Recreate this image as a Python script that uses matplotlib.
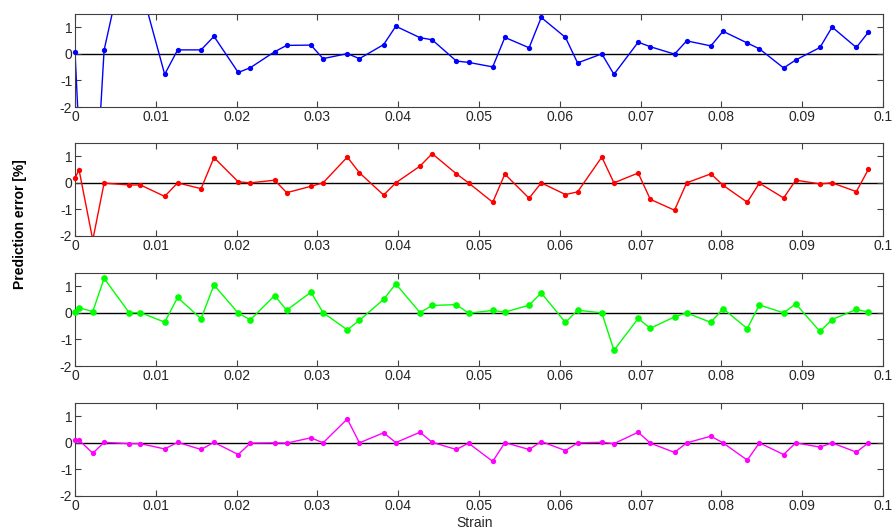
import numpy as np
import matplotlib

matplotlib.use("Agg")
import matplotlib.pyplot as plt

plt.rcParams["font.family"] = ["Liberation Sans", "DejaVu Sans"]
plt.rcParams["axes.unicode_minus"] = False

# strain levels where the prediction was evaluated
strain = [0.0, 0.0005, 0.0022, 0.0036, 0.0067, 0.0081, 0.0111, 0.0127, 0.0156, 0.0172,
          0.0202, 0.0217, 0.0247, 0.0262, 0.0292, 0.0307, 0.0337, 0.0352, 0.0382, 0.0397,
          0.0427, 0.0442, 0.0472, 0.0487, 0.0517, 0.0532, 0.0562, 0.0577, 0.0607, 0.0622,
          0.0652, 0.0667, 0.0697, 0.0712, 0.0742, 0.0757, 0.0787, 0.0802, 0.0832, 0.0847,
          0.0877, 0.0892, 0.0922, 0.0937, 0.0967, 0.0982]

# prediction error [%] for each model
err_blue = [0.06, -3.1, -7.2, 0.14, 4.4, 2.57, -0.77, 0.15, 0.15, 0.66,
            -0.70, -0.52, 0.08, 0.32, 0.33, -0.18, 0.01, -0.18, 0.35, 1.04,
            0.61, 0.53, -0.27, -0.32, -0.49, 0.62, 0.23, 1.37, 0.62, -0.34,
            0.00, -0.77, 0.44, 0.27, -0.01, 0.49, 0.30, 0.85, 0.41, 0.19,
            -0.53, -0.23, 0.24, 1.01, 0.24, 0.82]
err_red = [0.18, 0.49, -2.15, -0.01, -0.08, -0.08, -0.51, 0.00, -0.22, 0.95,
           0.04, 0.00, 0.10, -0.37, -0.13, 0.00, 0.97, 0.38, -0.46, 0.00,
           0.63, 1.10, 0.34, 0.00, -0.73, 0.33, -0.58, 0.00, -0.44, -0.34,
           0.97, 0.00, 0.37, -0.62, -1.03, 0.00, 0.34, -0.09, -0.73, -0.01,
           -0.57, 0.10, -0.04, 0.00, -0.33, 0.51]
err_green = [0.05, 0.19, 0.05, 1.30, 0.01, 0.01, -0.35, 0.58, -0.22, 1.05,
             -0.01, -0.26, 0.65, 0.10, 0.78, 0.01, -0.64, -0.28, 0.51, 1.09,
             0.01, 0.28, 0.31, -0.01, 0.09, 0.03, 0.29, 0.75, -0.36, 0.10,
             0.00, -1.41, -0.21, -0.58, -0.15, 0.00, -0.36, 0.16, -0.59, 0.30,
             0.00, 0.34, -0.70, -0.25, 0.13, 0.03]
err_magenta = [0.12, 0.10, -0.39, 0.02, -0.03, -0.03, -0.23, 0.02, -0.25, 0.02,
               -0.44, -0.01, 0.00, -0.01, 0.19, 0.00, 0.90, 0.00, 0.38, 0.01,
               0.40, 0.02, -0.25, -0.01, -0.70, 0.01, -0.25, 0.05, -0.29, 0.00,
               0.02, -0.03, 0.40, -0.01, -0.36, 0.00, 0.25, 0.00, -0.65, 0.00,
               -0.44, 0.00, -0.16, 0.00, -0.35, 0.00]

series = [(err_blue, "#0000ff", 3.8),
          (err_red, "#ff0000", 3.8),
          (err_green, "#00ff00", 4.8),
          (err_magenta, "#ff00ff", 3.8)]

x_ticks = np.arange(0, 0.1001, 0.01)
x_labels = ["0", "0.01", "0.02", "0.03", "0.04", "0.05", "0.06", "0.07", "0.08", "0.09", "0.1"]
y_ticks = [-2, -1, 0, 1]
y_lim = (-2, 1.5)

fig = plt.figure(figsize=(8.93, 5.29), dpi=100)
bottoms = [0.7977, 0.5539, 0.3081, 0.0624]
x = np.array(strain)

for (err, color, ms), b in zip(series, bottoms):
    ax = fig.add_axes([0.084, b, 0.9048, 0.1758])
    ax.axhline(0, color="black", linewidth=1.0, zorder=1)
    y = np.array(err)
    ax.plot(x, y, color=color, linewidth=1.0, zorder=2)
    # markers are not clipped at the frame (points sitting on x=0 stay whole)
    inside = (y >= y_lim[0]) & (y <= y_lim[1])
    ax.plot(x[inside], y[inside], linestyle="none", marker="o", color=color,
            markersize=ms, markeredgewidth=0, zorder=3, clip_on=False)
    ax.set_xlim(0, 0.1)
    ax.set_ylim(*y_lim)
    ax.set_xticks(x_ticks)
    ax.set_xticklabels(x_labels)
    ax.set_yticks(y_ticks)
    ax.tick_params(direction="in", top=True, right=True, length=4,
                   width=0.8, color="#404040", labelcolor="#262626",
                   labelsize=10, pad=2)
    for sp in ax.spines.values():
        sp.set_color("#404040")
        sp.set_linewidth(0.8)

fig.text(0.022, 0.577, "Prediction error [%]", rotation=90, fontsize=10,
         fontweight="bold", ha="center", va="center")
fig.text(0.532, 0.012, "Strain", fontsize=10, ha="center", va="center",
         color="#262626")

fig.savefig("out.png", dpi=100)
plt.close(fig)
